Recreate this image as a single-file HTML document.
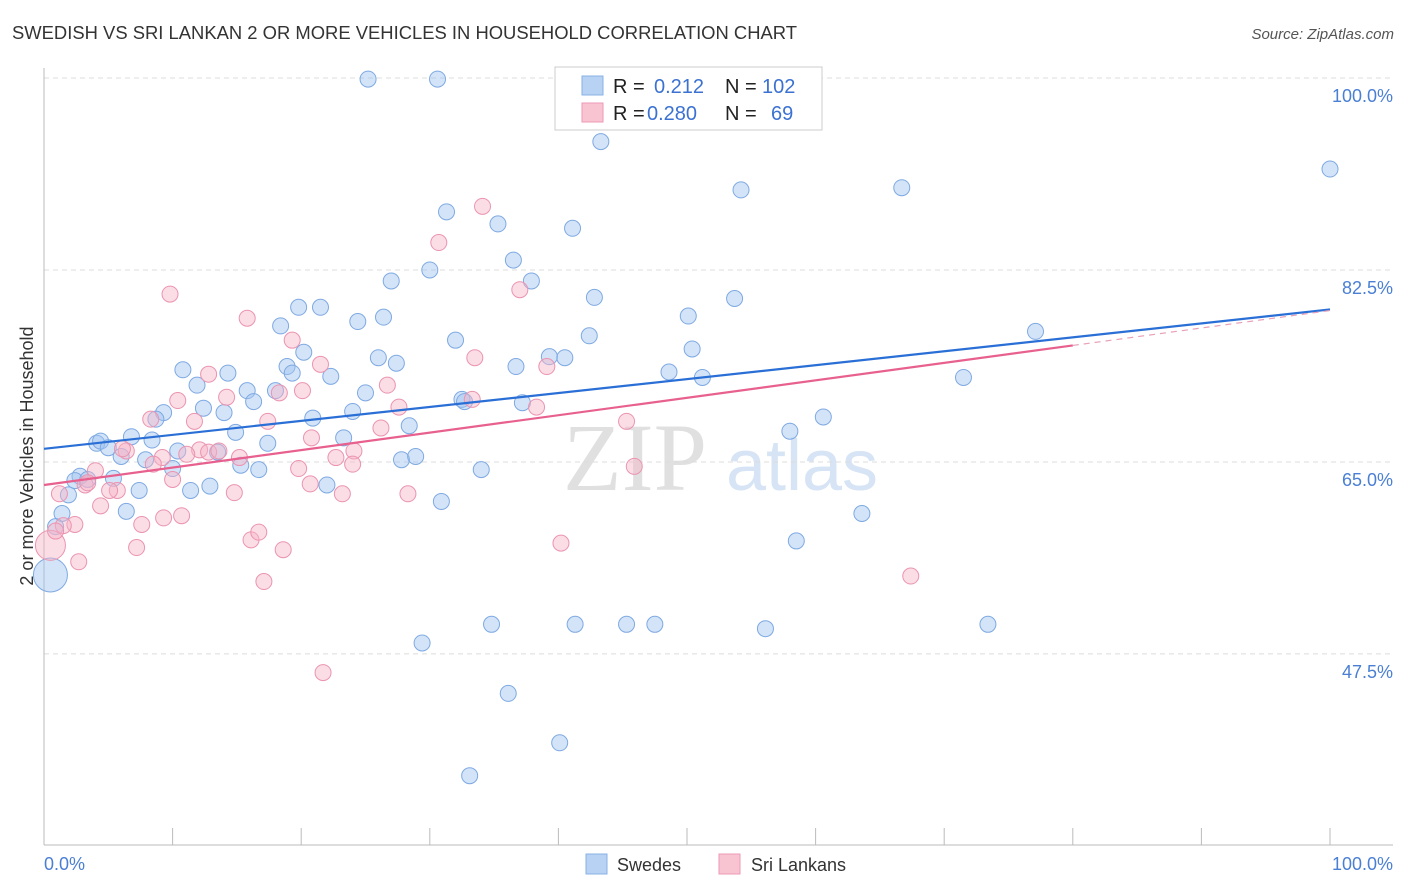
<!DOCTYPE html>
<html><head><meta charset="utf-8">
<style>
body{margin:0;background:#fff;font-family:"Liberation Sans",sans-serif;}
#wrap{position:relative;width:1406px;height:892px;overflow:hidden;}
svg{position:absolute;left:0;top:0;}
</style></head>
<body>
<div id="wrap">
<svg id="chart" width="1406" height="892">
  <text x="12" y="39" font-size="18" fill="#333" textLength="785" lengthAdjust="spacingAndGlyphs">SWEDISH VS SRI LANKAN 2 OR MORE VEHICLES IN HOUSEHOLD CORRELATION CHART</text>
  <text x="1394" y="39" font-size="15" fill="#555" font-style="italic" text-anchor="end">Source: ZipAtlas.com</text>
  <text transform="translate(33,456) rotate(-90)" font-size="18" fill="#333" text-anchor="middle">2 or more Vehicles in Household</text>
  <g>
    <text x="635" y="490" font-size="96" fill="#e0e0e0" font-family="Liberation Serif,serif" text-anchor="middle">ZIP</text>
    <text x="802" y="490" font-size="72" fill="#d6e4f5" text-anchor="middle">atlas</text>
  </g>
  <g id="grid"></g>
  <g id="axes"></g>
  <g id="marks"></g>
  <g id="trends"></g>
  <g>
    <rect x="555" y="67" width="267" height="63" fill="#fff" stroke="#ccc"/>
    <rect x="582" y="76" width="21" height="19" fill="#b8d2f4" stroke="#8ab0e6"/>
    <rect x="582" y="103" width="21" height="19" fill="#f8c4d2" stroke="#ee9ab4"/>
    <text x="613" y="93" font-size="20" fill="#222">R =</text>
    <text x="654" y="93" font-size="20" fill="#3b72d2">0.212</text>
    <text x="725" y="93" font-size="20" fill="#222">N =</text>
    <text x="762" y="93" font-size="20" fill="#3b72d2">102</text>
    <text x="613" y="120" font-size="20" fill="#222">R =</text>
    <text x="647" y="120" font-size="20" fill="#3b72d2">0.280</text>
    <text x="725" y="120" font-size="20" fill="#222">N =</text>
    <text x="771" y="120" font-size="20" fill="#3b72d2">69</text>
  </g>
  <g>
    <rect x="586" y="854" width="21" height="20" fill="#b8d2f4" stroke="#8ab0e6"/>
    <text x="617" y="871" font-size="18" fill="#333">Swedes</text>
    <rect x="719" y="854" width="21" height="20" fill="#f8c4d2" stroke="#ee9ab4"/>
    <text x="751" y="871" font-size="18" fill="#333">Sri Lankans</text>
  </g>
</svg>
</div>
<script>
const yTicks=[47.5,65.0,82.5,100.0];
const yTickLabels=["47.5%","65.0%","82.5%","100.0%"];
const xTickLabels=["0.0%","100.0%"];
const swedesX=[25.2,30.6,43.3,54.2,66.7,100,31.3,35.3,41.1,36.5,30.0,27.0,37.9,42.8,19.8,21.5,18.4,24.4,26.4,50.1,53.7,77.1,32.0,42.4,20.2,26.0,27.4,18.9,39.3,40.5,36.7,50.4,10.8,14.3,19.3,22.3,48.6,51.2,71.5,11.9,15.8,18.0,25.0,16.3,32.5,32.7,37.2,12.4,14.0,24.0,20.9,60.6,9.3,8.7,14.9,23.3,28.4,58.0,6.8,8.4,4.1,4.4,17.4,5.0,10.4,13.5,6.0,7.9,27.8,28.9,15.3,16.7,10.0,34.0,5.4,2.8,2.4,3.4,12.9,11.4,7.4,22.0,1.9,30.9,6.4,63.6,1.4,0.9,58.5,0.5,34.8,41.3,45.3,47.5,56.1,73.4,29.4,36.1,40.1,33.1];
const swedesY=[99.9,99.9,94.2,89.8,90.0,91.7,87.8,86.7,86.3,83.4,82.5,81.5,81.5,80.0,79.1,79.1,77.4,77.8,78.2,78.3,79.9,76.9,76.1,76.5,75.0,74.5,74.0,73.7,74.6,74.5,73.7,75.3,73.4,73.1,73.1,72.8,73.2,72.7,72.7,72.0,71.5,71.5,71.3,70.5,70.7,70.5,70.4,69.9,69.5,69.6,69.0,69.1,69.5,68.9,67.7,67.2,68.3,67.8,67.3,67.0,66.7,66.9,66.7,66.3,66.0,65.9,65.5,65.2,65.2,65.5,64.7,64.3,64.4,64.3,63.5,63.7,63.3,63.4,62.8,62.4,62.4,62.9,62.0,61.4,60.5,60.3,60.3,59.1,57.8,54.7,50.2,50.2,50.2,50.2,49.8,50.2,48.5,43.9,39.4,36.4];
const sriX=[34.1,30.7,37.0,9.8,15.8,19.3,33.5,39.1,21.5,26.7,20.1,12.8,10.4,14.2,33.3,18.3,27.6,38.3,8.3,11.7,45.3,17.4,26.2,20.8,24.1,6.4,6.1,12.1,12.8,11.1,13.6,9.2,15.2,8.5,4.0,45.9,22.7,24.0,19.8,10.0,3.2,5.7,5.1,20.7,23.2,28.3,14.8,1.2,4.4,2.4,1.5,7.6,9.3,10.7,16.1,16.7,7.2,40.2,18.6,2.7,17.1,67.4,21.7,0.5,0.9,3.4];
const sriY=[88.3,85.0,80.7,80.3,78.1,76.1,74.5,73.7,73.9,72.0,71.5,73.0,70.6,70.9,70.7,71.3,70.0,70.0,68.9,68.7,68.7,68.7,68.1,67.2,66.0,66.0,66.2,66.1,65.9,65.7,66.0,65.4,65.4,64.8,64.2,64.6,65.4,64.8,64.4,63.4,62.9,62.4,62.4,63.0,62.1,62.1,62.2,62.1,61.0,59.3,59.2,59.3,59.9,60.1,57.9,58.6,57.2,57.6,57.0,55.9,54.1,54.6,45.8,57.4,58.7,63.1];
const sriR=[];for(let i=0;i<sriX.length;i++)sriR.push(8);sriR[63]=15;
const sweR=[];for(let i=0;i<swedesX.length;i++)sweR.push(8);sweR[89]=17;
const swedesTrend=[66.2,78.9];
const sriTrend=[62.9,78.8];
const sriSolidEnd=80;

const NS="http://www.w3.org/2000/svg";
const X0=44,X1=1330,YTOP=78,PXY=10.97;
function xs(v){return X0+(X1-X0)*v/100;}
function ys(v){return YTOP+(100-v)*PXY;}
function mk(t,a,p){const e=document.createElementNS(NS,t);for(const k in a)e.setAttribute(k,a[k]);p.appendChild(e);return e;}
const grid=document.getElementById('grid'),axes=document.getElementById('axes'),marks=document.getElementById('marks'),trends=document.getElementById('trends');
yTicks.forEach((t,i)=>{
  const l=mk('line',{x1:X0,x2:1393,y1:ys(t),y2:ys(t),stroke:'#dcdcdc','stroke-dasharray':'5,4'},grid);
  
  
  const tx=mk('text',{x:1393,y:ys(t)+24,'font-size':18,fill:'#4a7fd4','text-anchor':'end'},axes);
  tx.textContent=yTickLabels[i];
  
  
});
const ya=mk('line',{x1:X0,x2:X0,y1:68,y2:845,stroke:'#bbb'},axes);


const xa=mk('line',{x1:X0,x2:1393,y1:845,y2:845,stroke:'#bbb'},axes);


for(let i=0;i<=10;i++){
  const tk=mk('line',{x1:xs(i*10),x2:xs(i*10),y1:828,y2:845,stroke:'#bbb'},axes);
  
  
}
const xl0=mk('text',{x:44,y:870,'font-size':18,fill:'#4a7fd4'},axes);xl0.textContent=xTickLabels[0];


const xl1=mk('text',{x:1393,y:870,'font-size':18,fill:'#4a7fd4','text-anchor':'end'},axes);xl1.textContent=xTickLabels[1];


swedesX.forEach((x,i)=>{
  const c=mk('circle',{cx:xs(x),cy:ys(swedesY[i]),r:sweR[i],fill:'rgba(160,196,240,0.45)',stroke:'#7ea9e2','stroke-width':1},marks);
  
  
});
sriX.forEach((x,i)=>{
  const c=mk('circle',{cx:xs(x),cy:ys(sriY[i]),r:sriR[i],fill:'rgba(246,180,200,0.45)',stroke:'#eb94b0','stroke-width':1},marks);
  
  
});
const bl=mk('line',{x1:xs(0),y1:ys(swedesTrend[0]),x2:xs(100),y2:ys(swedesTrend[1]),stroke:'#2a6fd6','stroke-width':2.2},trends);


const sMid=sriTrend[0]+(sriTrend[1]-sriTrend[0])*sriSolidEnd/100;
const pl=mk('line',{x1:xs(0),y1:ys(sriTrend[0]),x2:xs(sriSolidEnd),y2:ys(sMid),stroke:'#e8608e','stroke-width':2.2},trends);


const pd=mk('line',{x1:xs(sriSolidEnd),y1:ys(sMid),x2:xs(100),y2:ys(sriTrend[1]),stroke:'#e8a0b8','stroke-width':1.2,'stroke-dasharray':'6,5'},trends);


</script>
</body></html>
